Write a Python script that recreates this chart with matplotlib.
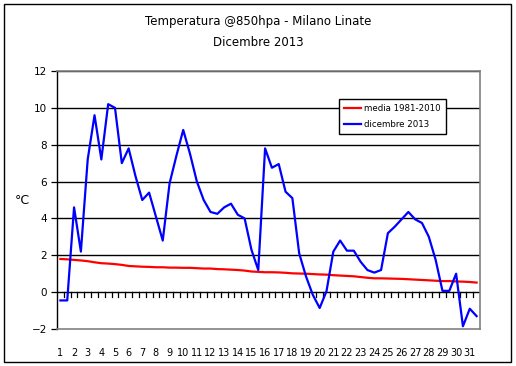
import matplotlib
matplotlib.use("Agg")
import matplotlib.pyplot as plt
from matplotlib.patches import Rectangle
import numpy as np

# two readings per day (00 and 12 UTC), 1-31 December 2013
giorni = list(range(1, 32))
dicembre_2013 = [-0.45, -0.45, 4.6, 2.2, 7.2, 9.6, 7.2, 10.2, 10.0, 7.0,
                 7.8, 6.3, 5.0, 5.4, 4.1, 2.8, 5.9, 7.4, 8.8, 7.5,
                 6.0, 5.0, 4.35, 4.25, 4.6, 4.8, 4.2, 4.0, 2.3, 1.2,
                 7.8, 6.75, 6.95, 5.45, 5.1, 2.1, 0.85, -0.15, -0.86, 0.05,
                 2.2, 2.8, 2.25, 2.25, 1.65, 1.2, 1.06, 1.2, 3.2, 3.55,
                 3.95, 4.35, 3.95, 3.75, 3.0, 1.75, 0.07, 0.07, 1.0, -1.85,
                 -0.9, -1.3]
media_1981_2010 = [1.80, 1.78, 1.75, 1.72, 1.68, 1.62, 1.57, 1.55, 1.52, 1.48,
                   1.42, 1.40, 1.38, 1.37, 1.35, 1.35, 1.33, 1.33, 1.32, 1.32,
                   1.30, 1.28, 1.28, 1.25, 1.24, 1.22, 1.20, 1.17, 1.12, 1.10,
                   1.08, 1.08, 1.07, 1.05, 1.02, 1.01, 1.00, 0.98, 0.96, 0.95,
                   0.92, 0.90, 0.88, 0.86, 0.82, 0.78, 0.75, 0.75, 0.74, 0.73,
                   0.72, 0.70, 0.68, 0.66, 0.64, 0.62, 0.60, 0.60, 0.58, 0.57,
                   0.55, 0.52]

x = np.arange(len(dicembre_2013))

fig = plt.figure(figsize=(5.16, 3.66), dpi=100)
ax = fig.add_axes([57 / 516, 1 - 329 / 366, 423 / 516, 258 / 366])

ax.plot(x, media_1981_2010, color='#ff0000', lw=1.6, label='media 1981-2010', zorder=3)
ax.plot(x, dicembre_2013, color='#0000ff', lw=1.6, label='dicembre 2013', zorder=4)

ax.set_xlim(-0.5, len(x) - 0.5)
ax.set_ylim(-2, 12)
ax.set_yticks(range(-2, 13, 2))
for v in range(2, 13, 2):
    ax.axhline(v, color='black', lw=1.0, zorder=1)
ax.axhline(0, color='black', lw=1.0, zorder=2)

# day labels under every second point, ticks between readings on the zero line
ax.set_xticks(x[::2])
ax.set_xticklabels([str(g) for g in giorni], fontsize=7)
ax.tick_params(axis='x', length=0, pad=14)
for b in np.arange(0.5, len(x) - 0.5, 1.0):
    ax.plot([b, b], [0, -0.25], color='black', lw=0.9, zorder=2, clip_on=False)
ax.tick_params(axis='y', labelsize=7.5, length=4, width=0.9, direction='out', pad=3)

for side in ['top', 'right', 'bottom']:
    ax.spines[side].set_color('#808080')
    ax.spines[side].set_linewidth(1.2)
ax.spines['left'].set_color('black')
ax.spines['left'].set_linewidth(1.0)

ax.set_ylabel('°C', rotation=0, fontsize=9, va='center', ha='center')
ax.yaxis.set_label_coords(-0.083, 0.5)

fig.text(0.5, 1 - 21 / 366, 'Temperatura @850hpa - Milano Linate', ha='center', va='center', fontsize=8.5)
fig.text(0.5, 1 - 43 / 366, 'Dicembre 2013', ha='center', va='center', fontsize=8.5)

leg = ax.legend(loc='upper left', bbox_to_anchor=((339 - 57) / 423, (329 - 99) / 258),
                fontsize=6.2, frameon=True, fancybox=False, borderpad=0.6,
                handlelength=2.0, handletextpad=0.3, labelspacing=0.8, borderaxespad=0)
leg.get_frame().set_edgecolor('black')
leg.get_frame().set_linewidth(1.0)
leg.get_frame().set_alpha(1)

fig.patches.append(Rectangle((4 / 516, 4 / 366), 507 / 516, 358 / 366, transform=fig.transFigure,
                             fill=False, edgecolor='black', lw=1.0))

fig.savefig('out.png', dpi=100)
